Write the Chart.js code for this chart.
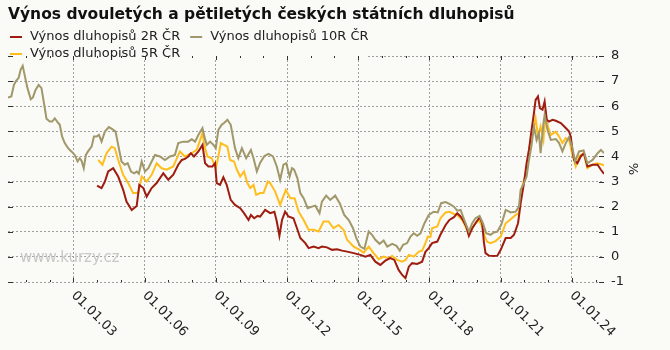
<!DOCTYPE html>
<html>
<head>
<meta charset="utf-8">
<title>Výnos dvouletých a pětiletých českých státních dluhopisů</title>
<script src="https://cdn.jsdelivr.net/npm/chart.js@4.4.1/dist/chart.umd.min.js"></script>
<style>
  html, body { margin: 0; padding: 0; background: #fafaf6; }
  canvas { display: block; }
</style>
</head>
<body>
<canvas id="graf" width="670" height="350"></canvas>
<script>
// hodnoty (rok jako desetinné číslo, výnos v %)
var title = "Výnos dvouletých a pětiletých českých státních dluhopisů";
var names = ["Výnos dluhopisů 2R ČR", "Výnos dluhopisů 10R ČR", "Výnos dluhopisů 5R ČR"];
var colors = ["#9e1c10", "#a0976a", "#ffbe1e"];
var watermark = "www.kurzy.cz";

var tickYears = [2003, 2006, 2009, 2012, 2015, 2018, 2021, 2024];
var tickLabels = ["01.01.03", "01.01.06", "01.01.09", "01.01.12", "01.01.15", "01.01.18", "01.01.21", "01.01.24"];
var yMin = -1, yMax = 8;

var dates10R = [2000.25,2000.39,2000.50,2000.60,2000.70,2000.78,2000.87,2000.95,2001.07,2001.21,
  2001.30,2001.41,2001.54,2001.66,2001.73,2001.80,2001.87,2002.01,2002.11,2002.22,
  2002.32,2002.43,2002.53,2002.64,2002.78,2002.92,2003.06,2003.18,2003.27,2003.35,
  2003.44,2003.53,2003.62,2003.77,2003.87,2003.98,2004.08,2004.19,2004.33,2004.50,
  2004.64,2004.78,2004.89,2005.03,2005.17,2005.29,2005.43,2005.57,2005.67,2005.76,
  2005.88,2006.02,2006.16,2006.30,2006.44,2006.65,2006.86,2007.07,2007.28,2007.42,
  2007.63,2007.84,2007.99,2008.13,2008.27,2008.44,2008.52,2008.62,2008.76,2008.90,
  2009.00,2009.11,2009.25,2009.35,2009.49,2009.63,2009.81,2009.95,2010.10,2010.28,
  2010.48,2010.59,2010.73,2010.87,2011.05,2011.22,2011.41,2011.57,2011.71,2011.85,
  2011.97,2012.11,2012.21,2012.30,2012.44,2012.56,2012.70,2012.87,2013.05,2013.19,
  2013.37,2013.47,2013.65,2013.82,2014.03,2014.22,2014.41,2014.60,2014.78,2014.92,
  2015.09,2015.26,2015.44,2015.58,2015.72,2015.90,2016.07,2016.22,2016.43,2016.61,
  2016.75,2016.89,2017.06,2017.20,2017.34,2017.48,2017.62,2017.79,2017.97,2018.18,
  2018.35,2018.49,2018.68,2018.84,2019.03,2019.17,2019.31,2019.41,2019.52,2019.66,
  2019.80,2019.94,2020.11,2020.25,2020.39,2020.57,2020.71,2020.86,2021.03,2021.21,
  2021.42,2021.63,2021.77,2021.84,2021.98,2022.09,2022.19,2022.29,2022.40,2022.51,
  2022.61,2022.68,2022.80,2022.85,2022.97,2023.11,2023.32,2023.46,2023.60,2023.74,
  2023.88,2024.02,2024.13,2024.30,2024.49,2024.65,2024.87,2025.08,2025.22,2025.35];
var yields10R = [6.35,6.39,6.85,7.02,7.13,7.45,7.61,7.25,6.72,6.28,
  6.35,6.65,6.85,6.72,6.32,5.92,5.5,5.39,5.39,5.52,
  5.39,5.26,4.79,4.53,4.33,4.2,4.06,3.8,3.93,3.82,
  3.53,4.06,4.2,4.39,4.79,4.79,4.86,4.59,4.99,5.17,
  5.09,4.99,4.46,3.8,3.67,3.73,3.4,3.33,3.4,3.31,
  3.8,3.4,3.53,3.8,4.06,4.0,3.86,4.0,4.06,4.53,
  4.59,4.59,4.69,4.59,4.86,5.13,4.79,4.46,4.59,4.46,
  4.33,5.06,5.26,5.33,5.46,5.26,4.33,3.93,4.33,3.93,
  4.26,3.93,3.4,3.75,4.02,4.1,4.0,3.6,3.07,3.67,
  3.73,3.2,3.53,3.47,3.13,2.54,2.34,1.94,2.0,2.04,
  1.74,2.2,2.44,2.27,2.44,2.14,1.67,1.47,1.14,0.75,
  0.41,0.32,1.01,0.88,0.68,0.52,0.65,0.41,0.52,0.44,
  0.25,0.48,0.55,0.81,0.94,0.84,0.94,1.34,1.67,1.8,
  1.77,2.14,2.18,2.11,2.0,1.84,1.87,1.61,1.34,1.01,
  1.34,1.54,1.63,1.34,0.94,0.88,0.97,1.01,1.3,1.87,
  1.77,1.8,2.0,2.67,2.94,3.2,3.86,4.39,5.19,4.66,
  4.93,4.13,5.33,5.66,5.06,4.66,4.69,4.53,4.2,4.53,
  4.77,4.33,3.8,4.2,4.24,3.73,3.86,4.13,4.26,4.13];

var dates5R = [2004.05,2004.23,2004.40,2004.61,2004.75,2004.89,2005.10,2005.31,2005.52,2005.73,
  2005.88,2006.09,2006.30,2006.51,2006.72,2006.93,2007.21,2007.49,2007.70,2007.99,
  2008.20,2008.44,2008.55,2008.65,2008.83,2009.00,2009.11,2009.21,2009.35,2009.49,
  2009.60,2009.77,2009.89,2010.03,2010.19,2010.33,2010.45,2010.59,2010.70,2010.87,
  2011.01,2011.19,2011.29,2011.50,2011.71,2011.95,2012.14,2012.32,2012.49,2012.70,
  2012.91,2013.12,2013.33,2013.54,2013.75,2013.96,2014.17,2014.38,2014.53,2014.81,
  2015.06,2015.23,2015.44,2015.65,2015.86,2016.07,2016.28,2016.43,2016.64,2016.85,
  2016.99,2017.13,2017.34,2017.55,2017.69,2017.83,2017.93,2018.04,2018.11,2018.33,
  2018.46,2018.68,2018.84,2019.03,2019.17,2019.38,2019.52,2019.66,2019.80,2019.94,
  2020.08,2020.22,2020.33,2020.43,2020.57,2020.78,2021.00,2021.21,2021.42,2021.63,
  2021.77,2021.84,2021.98,2022.09,2022.19,2022.29,2022.40,2022.47,2022.57,2022.68,
  2022.80,2022.89,2022.99,2023.11,2023.32,2023.46,2023.60,2023.74,2023.88,2024.02,
  2024.16,2024.30,2024.49,2024.65,2024.87,2025.08,2025.29,2025.35];
var yields5R = [3.86,3.67,4.13,4.39,4.33,3.86,3.27,2.94,2.54,2.54,
  3.2,3.0,3.27,3.73,3.53,3.47,3.6,4.2,4.0,4.13,
  4.26,4.93,4.33,4.0,3.93,3.53,4.0,4.53,4.46,4.39,
  3.86,3.8,3.47,3.2,3.4,2.94,2.74,2.87,2.47,2.54,
  2.54,3.0,2.94,2.6,2.07,2.67,2.34,2.34,1.8,1.47,
  1.08,1.08,1.01,1.41,1.41,1.14,1.27,1.08,0.68,0.41,
  0.28,0.17,0.41,0.15,-0.09,0.01,-0.05,0.04,-0.12,-0.19,
  -0.12,0.08,0.01,0.21,0.25,0.55,0.81,0.8,1.14,1.21,
  1.54,1.77,1.8,1.71,1.67,1.47,1.21,0.88,1.14,1.34,
  1.47,1.21,0.81,0.6,0.55,0.63,0.81,1.34,1.5,1.67,
  1.74,2.54,3.07,3.33,4.26,4.79,5.19,5.52,4.79,5.19,
  4.66,5.72,5.19,4.86,4.99,4.79,4.53,4.73,4.66,4.06,
  3.6,4.0,4.13,3.53,3.67,3.73,3.67,3.63];

var dates2R = [2004.00,2004.19,2004.33,2004.47,2004.68,2004.89,2005.10,2005.24,2005.46,2005.67,
  2005.78,2005.95,2006.09,2006.30,2006.51,2006.79,2007.00,2007.21,2007.42,2007.57,
  2007.70,2007.84,2007.95,2008.08,2008.27,2008.44,2008.55,2008.69,2008.86,2008.97,
  2009.04,2009.18,2009.32,2009.46,2009.63,2009.81,2010.03,2010.19,2010.38,2010.48,
  2010.62,2010.76,2010.87,2011.08,2011.29,2011.47,2011.57,2011.68,2011.79,2011.92,
  2012.06,2012.27,2012.42,2012.56,2012.77,2012.91,2013.12,2013.33,2013.47,2013.68,
  2013.90,2014.11,2014.32,2014.53,2014.81,2015.09,2015.30,2015.51,2015.72,2015.93,
  2016.14,2016.35,2016.52,2016.70,2016.85,2016.99,2017.13,2017.27,2017.48,2017.69,
  2017.83,2017.97,2018.11,2018.33,2018.46,2018.68,2018.84,2019.03,2019.17,2019.31,
  2019.41,2019.55,2019.66,2019.80,2019.94,2020.11,2020.22,2020.29,2020.36,2020.50,
  2020.71,2020.86,2021.00,2021.21,2021.42,2021.56,2021.73,2021.84,2021.98,2022.09,
  2022.19,2022.29,2022.38,2022.47,2022.57,2022.65,2022.76,2022.85,2022.94,2023.03,
  2023.18,2023.32,2023.53,2023.74,2023.88,2023.95,2024.02,2024.09,2024.23,2024.37,
  2024.51,2024.65,2024.87,2025.08,2025.22,2025.35];
var yields2R = [2.84,2.74,3.0,3.4,3.53,3.2,2.67,2.2,1.87,2.03,
  2.87,2.74,2.4,2.74,2.94,3.33,3.07,3.27,3.67,3.86,
  3.9,4.0,4.13,4.0,4.2,4.46,3.73,3.6,3.6,3.73,
  2.94,2.87,3.17,2.87,2.27,2.07,1.94,1.74,1.47,1.67,
  1.54,1.63,1.6,1.87,1.74,1.8,1.41,0.84,1.47,1.8,
  1.61,1.54,1.14,0.75,0.55,0.35,0.41,0.35,0.41,0.38,
  0.28,0.3,0.25,0.21,0.15,0.08,0.01,0.08,-0.19,-0.32,
  -0.15,-0.05,-0.12,-0.52,-0.72,-0.85,-0.39,-0.25,-0.28,-0.19,
  0.2,0.35,0.55,0.61,0.88,1.27,1.47,1.58,1.74,1.61,
  1.47,1.21,0.84,1.14,1.34,1.58,1.34,0.6,0.15,0.05,
  0.04,0.05,0.28,0.75,0.75,0.88,1.34,2.14,2.94,3.73,
  4.26,4.99,5.59,6.25,6.39,5.92,5.86,6.19,5.46,5.39,
  5.46,5.42,5.33,5.13,4.99,4.79,4.26,3.86,3.73,4.0,
  4.13,3.6,3.67,3.67,3.47,3.31];

var FONT = "'DejaVu Sans', Verdana, sans-serif";
Chart.defaults.font.family = FONT;

function points(dates, values){
    var out = [];
    for(var i = 0; i < dates.length; i++){
        out.push({x: dates[i], y: values[i]});
    }
    return out;
}

function line(ctx, x1, y1, x2, y2){
    ctx.beginPath();
    ctx.moveTo(x1, y1);
    ctx.lineTo(x2, y2);
    ctx.stroke();
}

// legenda, nadpis, popisky osy x a drobne carky
var kresba = {
    id: 'kresba',
    beforeDatasetsDraw: function(chart){
        var ctx = chart.ctx, area = chart.chartArea;
        ctx.save();
        ctx.font = '15px ' + FONT;
        ctx.fillStyle = '#c8c8c8';
        ctx.textBaseline = 'middle';
        ctx.fillText(watermark, area.left + 12, chart.scales.y.getPixelForValue(0) + 1);
        ctx.restore();
    },
    afterDraw: function(chart){
        var ctx = chart.ctx, area = chart.chartArea;
        var sx = chart.scales.x, sy = chart.scales.y;
        ctx.save();

        // pozadi legendy prekryva horni mrizku
        ctx.fillStyle = '#fafaf6';
        ctx.fillRect(0, 26, 367, area.top + 2 - 26);

        // legenda
        ctx.font = '13px ' + FONT;
        ctx.textBaseline = 'middle';
        ctx.textAlign = 'left';
        var rows = [[0, 1], [2]];
        var rowY = [37, 54];
        for(var r = 0; r < rows.length; r++){
            var x = 10;
            for(var k = 0; k < rows[r].length; k++){
                var d = rows[r][k];
                ctx.strokeStyle = colors[d];
                ctx.lineWidth = 2;
                line(ctx, x, rowY[r], x + 12, rowY[r]);
                ctx.fillStyle = '#222';
                ctx.fillText(names[d], x + 20, rowY[r]);
                x = x + 20 + ctx.measureText(names[d]).width + 10;
            }
        }

        // nadpis
        ctx.font = 'bold 15.5px ' + FONT;
        ctx.fillStyle = '#111';
        ctx.textBaseline = 'alphabetic';
        ctx.fillText(title, 8, 19);

        // carky na okrajich
        ctx.strokeStyle = '#333';
        ctx.lineWidth = 1;
        for(var v = yMin; v <= yMax; v++){
            var py = Math.round(sy.getPixelForValue(v)) + 0.5;
            line(ctx, area.left, py, area.left + 5, py);
            line(ctx, area.right - 5, py, area.right, py);
        }
        for(var yr = Math.ceil(sx.min); yr <= sx.max; yr++){
            var px = Math.round(sx.getPixelForValue(yr)) + 0.5;
            var len = tickYears.indexOf(yr) >= 0 ? 4 : 2;
            line(ctx, px, area.top, px, area.top + len);
            line(ctx, px, area.bottom - len, px, area.bottom);
        }

        // popisky osy x pod uhlem 45 stupnu
        ctx.font = '13px ' + FONT;
        ctx.fillStyle = '#222';
        ctx.textBaseline = 'middle';
        for(var t = 0; t < tickYears.length; t++){
            ctx.save();
            ctx.translate(sx.getPixelForValue(tickYears[t]), area.bottom + 11.5);
            ctx.rotate(Math.PI / 4);
            ctx.fillText(tickLabels[t], 0, 0);
            ctx.restore();
        }
        ctx.restore();
    }
};

var ctx = document.getElementById('graf').getContext('2d');
var chart = new Chart(ctx, {
    type: 'line',
    data: {
        datasets: [{
            label: names[0],
            data: points(dates2R, yields2R),
            borderColor: colors[0],
            order: 1
        }, {
            label: names[1],
            data: points(dates10R, yields10R),
            borderColor: colors[1],
            order: 0
        }, {
            label: names[2],
            data: points(dates5R, yields5R),
            borderColor: colors[2],
            order: 2
        }]
    },
    options: {
        responsive: false,
        animation: false,
        elements: {
            line: { borderWidth: 2, tension: 0, fill: false },
            point: { radius: 0, hoverRadius: 0 }
        },
        layout: { padding: { top: 56, left: 8, right: 26, bottom: 68 } },
        plugins: {
            legend: { display: false },
            title: { display: false },
            tooltip: { enabled: false }
        },
        scales: {
            x: {
                type: 'linear',
                min: dates10R[0],
                max: dates10R[dates10R.length - 1],
                afterBuildTicks: function(scale){
                    scale.ticks = tickYears.map(function(y){ return {value: y}; });
                },
                ticks: { display: false },
                grid: { color: '#a0a0a0', lineWidth: 1, drawTicks: false },
                border: { display: false, dash: [2, 2] }
            },
            y: {
                position: 'right',
                min: yMin,
                max: yMax,
                afterFit: function(scale){ scale.width = 40; },
                ticks: { stepSize: 1, padding: 7, color: '#222', font: { size: 13 } },
                grid: { color: '#a0a0a0', lineWidth: 1, drawTicks: false },
                border: { display: false, dash: [2, 2] },
                title: { display: true, text: '%', color: '#222', font: { size: 13 }, padding: { top: 4, bottom: 4 } }
            }
        }
    },
    plugins: [kresba]
});
</script>
</body>
</html>
